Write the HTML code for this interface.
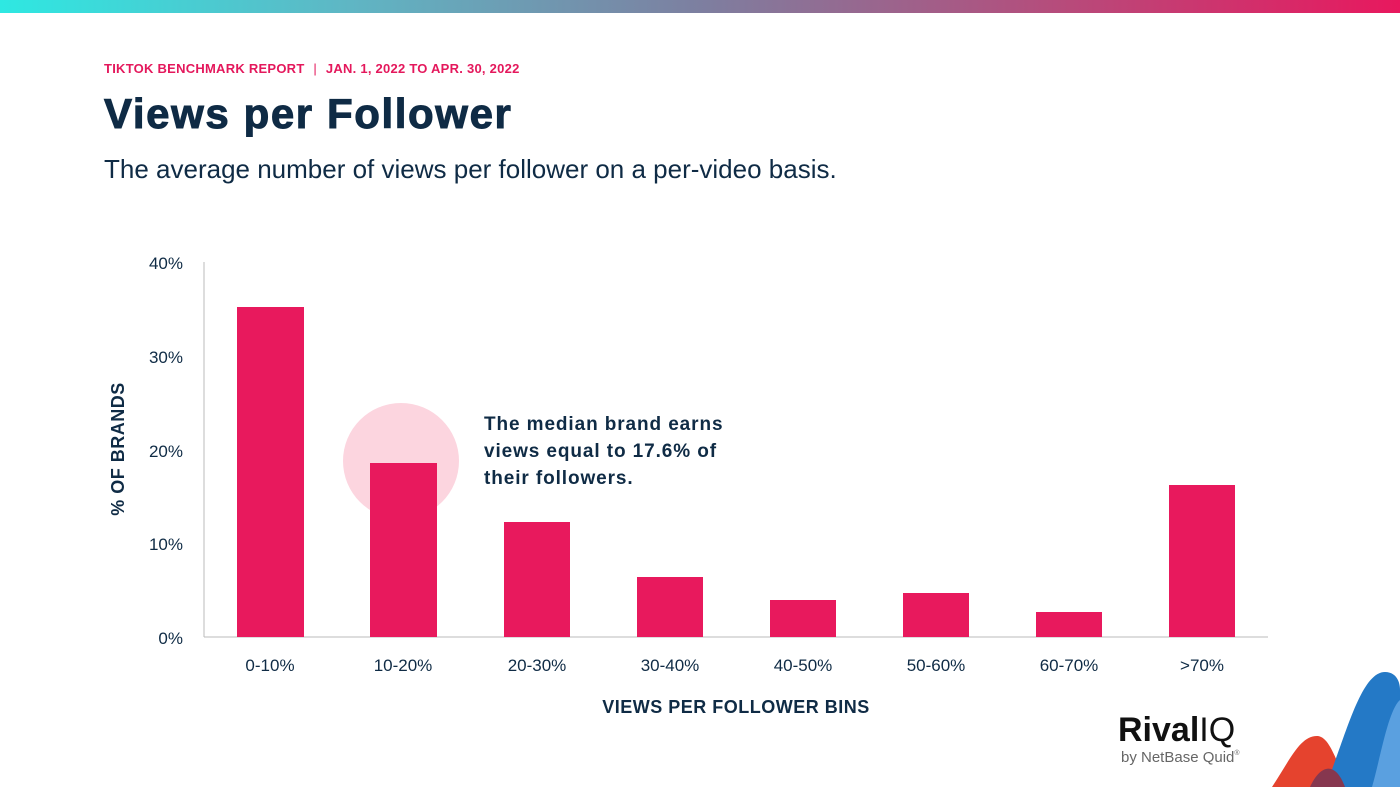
<!DOCTYPE html>
<html><head><meta charset="utf-8"><style>
body{margin:0;width:1400px;height:787px;overflow:hidden;background:#fff;font-family:"Liberation Sans",sans-serif;position:relative}
.bar{position:absolute;top:0;left:0;width:1400px;height:13px;background:linear-gradient(90deg,#2ee8e2 0%,#5fb6c4 25%,#7d7fa0 50%,#b54d7c 75%,#e8185e 100%)}
.t{position:absolute;white-space:nowrap}
</style></head><body>
<div class="bar"></div>
<div class="t" style="left:104px;top:61px;font-size:13px;font-weight:bold;color:#e4185c;letter-spacing:0.25px">TIKTOK BENCHMARK REPORT <span style="font-weight:normal;margin:0 5px">|</span> JAN. 1, 2022 TO APR. 30, 2022</div>
<div class="t" style="left:104px;top:90px;font-size:42px;font-weight:bold;color:#0f2b45;letter-spacing:1.6px;-webkit-text-stroke:1px #0f2b45">Views per Follower</div>
<div class="t" style="left:104px;top:154px;font-size:26px;color:#0f2b45">The average number of views per follower on a per-video basis.</div>
<svg width="1400" height="787" style="position:absolute;left:0;top:0">
<circle cx="401" cy="461" r="58" fill="#fcd5df"/>
<line x1="204" y1="262" x2="204" y2="637" stroke="#bbb"/>
<line x1="204" y1="637" x2="1268" y2="637" stroke="#bbb"/>
<g fill="#e8195d">
<rect x="237" y="307" width="67" height="330"/>
<rect x="370" y="463" width="67" height="174"/>
<rect x="504" y="522" width="66" height="115"/>
<rect x="637" y="577" width="66" height="60"/>
<rect x="770" y="600" width="66" height="37"/>
<rect x="903" y="593" width="66" height="44"/>
<rect x="1036" y="612" width="66" height="25"/>
<rect x="1169" y="485" width="66" height="152"/>
</g>
<g font-family="Liberation Sans" font-size="17" fill="#0f2b45" text-anchor="end">
<text x="183" y="269">40%</text><text x="183" y="363">30%</text><text x="183" y="457">20%</text><text x="183" y="550">10%</text><text x="183" y="644">0%</text>
</g>
<g font-family="Liberation Sans" font-size="17" fill="#0f2b45" text-anchor="middle">
<text x="270" y="671">0-10%</text><text x="403" y="671">10-20%</text><text x="537" y="671">20-30%</text><text x="670" y="671">30-40%</text><text x="803" y="671">40-50%</text><text x="936" y="671">50-60%</text><text x="1069" y="671">60-70%</text><text x="1202" y="671">&gt;70%</text>
<text x="736" y="713" font-weight="bold" font-size="18" letter-spacing="0.5">VIEWS PER FOLLOWER BINS</text>
<text transform="translate(124,449) rotate(-90)" font-weight="bold" font-size="18" letter-spacing="0.5">% OF BRANDS</text>
</g>
<g font-family="Liberation Sans" font-size="19" font-weight="bold" fill="#0f2b45" letter-spacing="0.9">
<text x="484" y="430">The median brand earns</text><text x="484" y="457">views equal to 17.6% of</text><text x="484" y="484">their followers.</text>
</g>
<path d="M1272 787 C1290 760 1300 735 1318 736 C1332 738 1338 770 1350 787Z" fill="#e5432e"/>
<path d="M1325 787 C1345 740 1360 672 1385 672 C1395 672 1400 680 1400 690 L1400 787Z" fill="#2479c6"/>
<path d="M1372 787 C1380 760 1388 710 1400 700 L1400 787Z" fill="#5aa0e0"/>
<path d="M1310 787 C1320 765 1335 760 1345 787Z" fill="#86374f"/>
<text x="1118" y="741" font-family="Liberation Sans" font-size="34" font-weight="bold" fill="#111">Rival<tspan font-weight="normal">IQ</tspan></text>
<text x="1121" y="762" font-family="Liberation Sans" font-size="15" fill="#666">by NetBase Quid<tspan font-size="7" dy="-7">®</tspan></text>
</svg>
</body></html>
